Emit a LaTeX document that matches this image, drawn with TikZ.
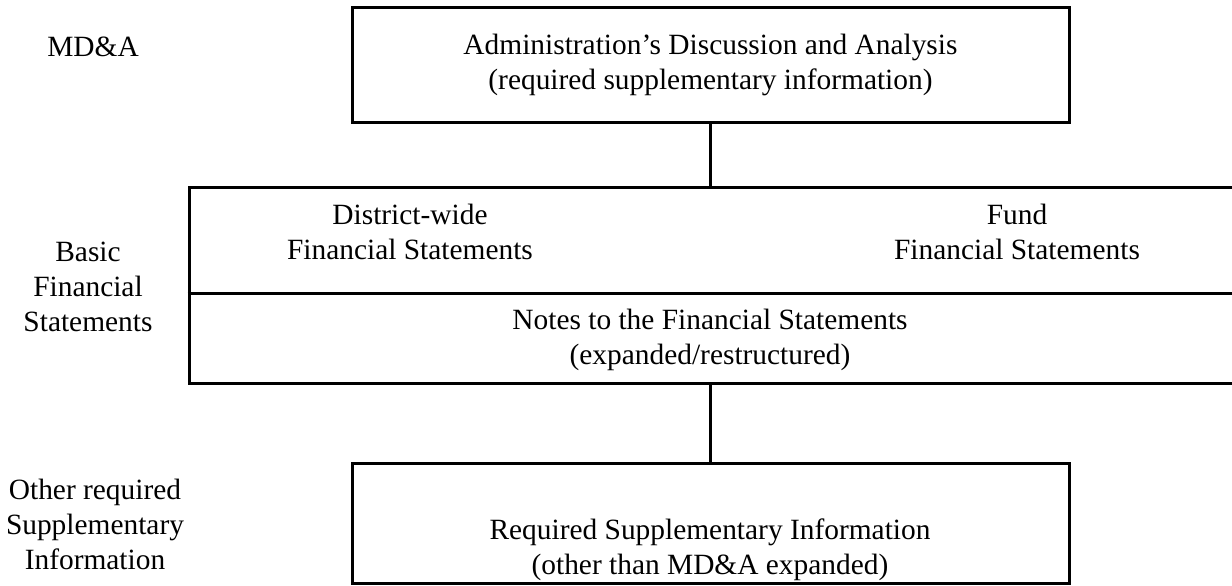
\documentclass[tikz,border=0pt]{standalone}
\usepackage{fontspec}
\setmainfont{Liberation Serif}
\tikzset{
    frame/.style = {draw, line width=1.5pt},
    txt/.style = {align=center, inner sep=0pt},
}
\begin{document}
\begin{tikzpicture}[x=0.5pt, y=-0.5pt, font=\fontsize{14.7}{17.5}\selectfont]
    \useasboundingbox (0,0) rectangle (1232,585);
    % boxes
    \node[frame, txt, minimum width=358.5pt, minimum height=57.5pt] (mda) at (710.5,64.5)
        {Administration’s Discussion and Analysis\\(required supplementary information)};
    \node[frame, minimum width=525.5pt, minimum height=98pt] (bfs) at (714.5,285) {};
    \draw[frame] ([yshift=-4pt]bfs.west) -- ([yshift=-4pt]bfs.east);
    \node[frame, minimum width=358.5pt, minimum height=60pt] (rsibox) at (710.5,523) {};
    % texts
    \node[txt] (dw) at (410,232) {District-wide\\Financial Statements};
    \node[txt] (fund) at (1017,232) {Fund\\Financial Statements};
    \node[txt] (notes) at (710,340) {Notes to the Financial Statements\\(expanded/restructured)};
    \node[txt] (rsi) at (710,550) {Required Supplementary Information\\(other than MD\&A expanded)};
    % row labels
    \node[txt] (mdalbl) at (93,47) {MD\&A};
    \node[txt] (bfslbl) at (88,287) {Basic\\Financial\\Statements};
    \node[txt] (osilbl) at (95,524) {Other required\\Supplementary\\Information};
    % connectors
    \draw[frame] (mda.south) -- (mda.south |- bfs.north);
    \draw[frame] (rsibox.north |- bfs.south) -- (rsibox.north);
\end{tikzpicture}
\end{document}
